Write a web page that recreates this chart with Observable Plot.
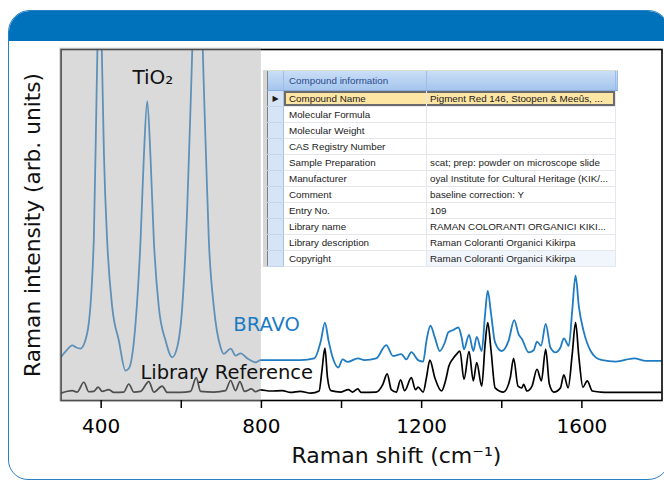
<!DOCTYPE html>
<html><head><meta charset="utf-8">
<script src="https://cdn.jsdelivr.net/npm/d3@7"></script>
<script src="https://cdn.jsdelivr.net/npm/@observablehq/plot@0.6"></script>
<style>
html,body{margin:0;padding:0;background:#fff;}
#wrap{position:relative;width:664px;height:482px;overflow:hidden;font-family:"DejaVu Sans",sans-serif;}
#card{position:absolute;left:8px;top:10px;width:662px;height:470px;box-sizing:border-box;border:1.5px solid #2a80c5;border-radius:22px 22px 22px 20px;overflow:hidden;}
#band{position:absolute;left:0;top:0;right:0;height:30px;background:#0071bb;}
#chart{position:absolute;left:0;top:0;}
#inset{position:absolute;left:263px;top:70px;border-left:4px solid #d6d6d6;border-top:1px solid #d2e2cc;background:#fff;}
#inset table{border-collapse:collapse;table-layout:fixed;font-family:"Liberation Sans",Arial,sans-serif;font-size:9.8px;color:#1b1b1b;border-left:1px solid #808080;}
#inset td{padding:0;white-space:nowrap;overflow:hidden;line-height:15px;height:15px;border-bottom:1px solid #e4e8ee;border-right:1px solid #e4e8ee;}
#inset td.rh{background:#d6e4f5;border-bottom:1px solid #c3d5ec;border-right:1px solid #a9c2e2;text-align:center;}
#inset td.c1{padding-left:5px;}
#inset td.c2{padding-left:3px;}
#inset tr.head td{height:19px;line-height:19px;background:linear-gradient(#cadef6,#a5c5ed);color:#2b4c8c;border-bottom:1px solid #86abdc;border-right:1px solid #9ebde6;}
#inset tr.sel td.c1{background:#fde5a4;box-shadow:inset 2px 2px 0 #6b6b6b, inset 0 -2px 0 #6b6b6b;}
#inset tr.sel td.c2{background:#fde5a4;box-shadow:inset -2px 2px 0 #6b6b6b, inset 0 -2px 0 #6b6b6b;}
#inset tr.last td.c2{background:#f1f6fc;}
</style></head>
<body>
<div id="wrap">
  <div id="card"><div id="band"></div></div>
  <div id="chart"></div>
  <div id="inset"></div>
</div>
<script>
// ---- data ----
const bravoShift = [300,313,328,338,348,365,381.6,389,396,403,407,415,427.6,444.1,460.8,469,485.8,498.3,506.5,515,523.2,531.5,543.9,560.7,577.4,589.9,602.4,614.9,623.1,640,660.5,668.8,681.3,698,706.2,723.3,735.6,748.1,764.7,785.4,798,848,898,932,948.5,958.5,967.7,977.7,991.9,1002.7,1015.3,1040.6,1057.4,1086.6,1111.6,1128.4,1149.3,1161.8,1174.4,1191.2,1203.8,1212,1222,1232.9,1245.4,1258.1,1266.4,1278.8,1291.5,1299.8,1305.7,1318.3,1329,1337.5,1350,1358.4,1365,1373.4,1383.4,1400.2,1416.9,1431.1,1442,1450.4,1467.1,1479.6,1488,1498,1509.7,1521.5,1534,1546.5,1554.9,1567.4,1575.9,1584.2,1592.6,1605.1,1621.9,1634.4,1651,1684.6,1730.5,1760,1800];
const bravoIntensity = [12.4,14.2,15.7,15.1,14.8,19.1,45.6,90,125,92,70,45.6,26.6,17.1,8.5,9.1,21.9,45.6,69.3,85.3,69.3,45.6,26.6,17.1,12.3,15.2,26.6,55.1,83.6,135,74.1,45.6,26.6,15.2,13.3,14.8,12.8,13.4,12.0,10.9,11.5,11.5,11.5,12.0,17,22.2,17,12.3,9.4,11.7,11.0,12.0,11.5,12.0,15.8,12.7,13.2,11.7,13.8,11.5,11.1,17,21.3,18,14.1,16.6,19.4,20.1,20.8,18,14.6,18.7,14.1,18.1,14.1,24.6,31.3,24.6,16.5,14.1,17,22.9,18.9,17.5,13.7,14.3,16.8,15.6,21.8,15.1,13.7,15.1,17.7,15.6,25.6,35.6,26.6,19.4,14.1,12.3,11.5,11.1,12.0,11.3,11.3];

const refShift = [300,327.7,340,356.8,369.2,381.6,392.6,402.6,419.1,431.6,456.5,469,481.5,498.3,519,531.5,552.4,564.9,598.1,623.1,637.4,648.1,681.3,710.5,723,735.5,746.2,758,775.4,785.4,797.9,823,852,873,896.5,923.6,944,951,958.5,965,973.5,998.6,1017,1027.9,1040.6,1049,1086.6,1103.2,1114,1124.2,1136.7,1147.5,1157.5,1174.4,1184.4,1191.2,1203.8,1212,1220.5,1232.9,1249.6,1259.6,1268,1278.8,1287.3,1295.6,1305.7,1318.3,1329,1337.5,1350,1358.4,1365,1373.4,1383.4,1404.4,1421.2,1429.6,1440.5,1450.4,1454.6,1463,1475.5,1488,1498.8,1509.7,1518.9,1529.8,1546.5,1554.9,1565.7,1575.9,1584.2,1592.6,1602.6,1613.4,1626.2,1646.8,1667.8,1800];
const refIntensity = [2.1,2.8,2.4,5.2,2.5,2.6,3.8,2.6,3.1,2.3,2.4,4.7,2.4,2.6,5.4,2.4,4.1,2.3,2.3,2.6,6.5,2.6,2.4,2.8,5.7,2.8,5.4,2.6,3.3,2.5,3.0,2.7,2.8,2.3,2.6,2.1,2.7,8.4,14.9,6.5,2.8,2.4,3.1,2.4,3.3,2.3,2.4,4.6,7.6,3.1,2.4,5.9,2.8,6.5,3.1,3.8,2.4,6.5,11.5,6.5,2.7,5.6,9.8,12.0,13.2,14.1,6.0,14.0,5.6,10.8,4.1,16.0,22.2,14.1,3.6,2.4,6.5,12.0,4.1,3.6,4.6,2.7,4.1,8.9,5.6,14.6,4.6,2.4,3.6,7.3,3.6,13.2,22.2,12.3,3.8,5.6,2.7,2.4,2.3,2.3];

const xTicks = [400, 600, 800, 1000, 1200, 1400, 1600];
const xTickLabels = ["400", "", "800", "", "1200", "", "1600"];
const shadedRange = [300, 800];

const labelText = ["TiO₂", "BRAVO", "Library Reference"];
const labelShift = [478, 730, 498];
const labelIntensity = [92, 21.7, 7.8];

const xTitle = "Raman shift (cm⁻¹)";
const xTitleShift = 1137;
const yTitle = "Raman intensity (arb. units)";

const fieldHeader = "Compound information";
const fieldNames = ["Compound Name","Molecular Formula","Molecular Weight","CAS Registry Number","Sample Preparation","Manufacturer","Comment","Entry No.","Library name","Library description","Copyright"];
const fieldValues = ["Pigment Red 146, Stoopen & Meeûs, ...","","","","scat; prep: powder on microscope slide","oyal Institute for Cultural Heritage (KIK/...","baseline correction: Y","109","RAMAN COLORANTI ORGANICI KIKI...","Raman Coloranti Organici Kikirpa","Raman Coloranti Organici Kikirpa"];

// ---- build ----
const bravo = bravoShift.map((s, i) => ({shift: s, value: bravoIntensity[i]}));
const ref = refShift.map((s, i) => ({shift: s, value: refIntensity[i]}));
const tickFmt = new Map(xTicks.map((t, i) => [t, xTickLabels[i]]));

const chart = Plot.plot({
  width: 664,
  height: 482,
  marginLeft: 60.6,
  marginRight: 2.5,
  marginTop: 49,
  marginBottom: 82,
  style: {background: "transparent", fontFamily: "DejaVu Sans", fontSize: "20px", color: "black"},
  x: {domain: [300, 1800]},
  y: {domain: [0, 100], axis: null},
  marks: [
    Plot.line(ref, {x: "shift", y: "value", stroke: "#000", strokeWidth: 1.7, curve: "monotone-x", clip: true}),
    Plot.line(bravo, {x: "shift", y: "value", stroke: "#1f7bc2", strokeWidth: 1.8, curve: "monotone-x", clip: true}),
    Plot.frame({stroke: "#000", strokeWidth: 1.6}),
    Plot.rect([shadedRange], {x1: d => d[0], x2: d => d[1], y1: 0, y2: 100, fill: "#acacac", fillOpacity: 0.45, insetLeft: -1.5, insetTop: -1.5, insetBottom: -1.5}),
    Plot.axisX({ticks: xTicks, tickFormat: t => tickFmt.get(t), tickSize: 8, tickPadding: 10, strokeWidth: 1.5, fontSize: 20, label: null}),
    Plot.text([labelText[0]], {x: labelShift[0], y: labelIntensity[0], text: d => d, textAnchor: "start", fontSize: 20, fill: "#111"}),
    Plot.text([labelText[1]], {x: labelShift[1], y: labelIntensity[1], text: d => d, textAnchor: "start", fontSize: 19.5, fill: "#1a7bc4"}),
    Plot.text([labelText[2]], {x: labelShift[2], y: labelIntensity[2], text: d => d, textAnchor: "start", fontSize: 19.5, fill: "#111"}),
    Plot.text([xTitle], {x: xTitleShift, frameAnchor: "bottom", dy: 62, text: d => d, fontSize: 22, fill: "#111"}),
    Plot.text([yTitle], {frameAnchor: "left", dx: -27.6, rotate: -90, textAnchor: "middle", text: d => d, fontSize: 21.7, fill: "#111"})
  ]
});
document.getElementById("chart").appendChild(chart);

// inset table
const table = document.createElement("table");
const colW = [16, 143, 189, 2];
const cg = document.createElement("colgroup");
colW.forEach(w => { const c = document.createElement("col"); c.style.width = w + "px"; cg.appendChild(c); });
table.appendChild(cg);
table.style.width = colW.reduce((a, b) => a + b, 0) + "px";
const head = document.createElement("tr");
head.className = "head";
[["rh", ""], ["c1", fieldHeader], ["c2", ""], ["c3", ""]].forEach(([cls, t]) => {
  const td = document.createElement("td"); td.className = cls; td.textContent = t; head.appendChild(td);
});
table.appendChild(head);
fieldNames.forEach((name, i) => {
  const tr = document.createElement("tr");
  if (i === 0) tr.className = "sel";
  if (i === fieldNames.length - 1) tr.className = "last";
  const rh = document.createElement("td"); rh.className = "rh";
  if (i === 0) { rh.textContent = "▶"; rh.style.fontSize = "8px"; rh.style.fontFamily = "DejaVu Sans"; }
  const c1 = document.createElement("td"); c1.className = "c1"; c1.textContent = name;
  const c2 = document.createElement("td"); c2.className = "c2"; c2.textContent = fieldValues[i];
  const c3 = document.createElement("td"); c3.className = "c3"; c3.style.border = "none"; c3.style.background = "#fff";
  tr.append(rh, c1, c2, c3);
  table.appendChild(tr);
});
document.getElementById("inset").appendChild(table);
</script>
</body></html>
